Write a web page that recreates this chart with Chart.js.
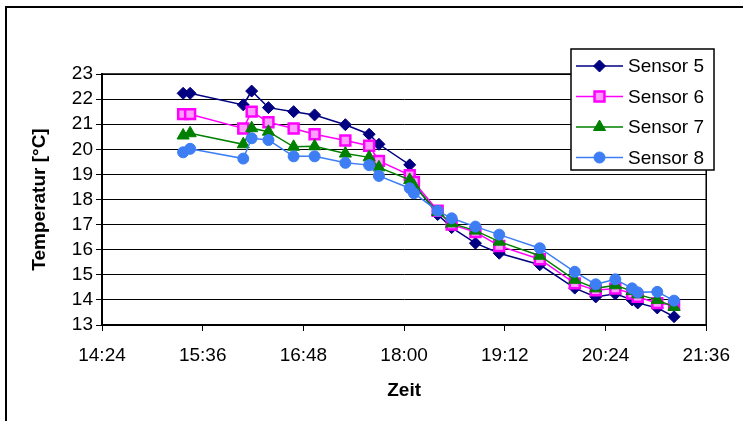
<!DOCTYPE html>
<html>
<head>
<meta charset="utf-8">
<script src="https://cdn.jsdelivr.net/npm/chart.js@4.4.0/dist/chart.umd.min.js"></script>
<style>
  html, body { margin: 0; padding: 0; background: #fff; }
  #wrap { width: 743px; height: 421px; }
</style>
</head>
<body>
<div id="wrap"><canvas id="tempChart" width="743" height="421"></canvas></div>
<script>
// Messzeitpunkte (hh:mm) und Temperaturen je Sensor in °C
const zeiten = ['15:22', '15:27', '16:05', '16:11', '16:23', '16:41', '16:56', '17:18', '17:35', '17:42', '18:04', '18:07',
                '18:24', '18:34', '18:51', '19:08', '19:37', '20:02', '20:17', '20:31', '20:43', '20:47', '21:01', '21:13'];
const sensor5 = [22.23, 22.23, 21.77, 22.32, 21.66, 21.5, 21.37, 20.98, 20.6, 20.2, 19.38, 18.62,
                 17.4, 16.88, 16.26, 15.86, 15.4, 14.47, 14.12, 14.24, 14.0, 13.88, 13.68, 13.33];
const sensor6 = [21.4, 21.4, 20.83, 21.5, 21.08, 20.83, 20.6, 20.35, 20.14, 19.54, 18.97, 18.7,
                 17.55, 17.0, 16.7, 16.15, 15.62, 14.66, 14.38, 14.45, 14.25, 14.12, 13.87, 13.8];
const sensor7 = [20.55, 20.64, 20.2, 20.84, 20.7, 20.1, 20.12, 19.83, 19.68, 19.28, 18.78, 18.55,
                 17.5, 17.05, 16.76, 16.32, 15.76, 14.8, 14.46, 14.58, 14.35, 14.22, 14.0, 13.72];
const sensor8 = [19.88, 20.02, 19.63, 20.44, 20.37, 19.72, 19.72, 19.46, 19.37, 18.94, 18.45, 18.25,
                 17.55, 17.25, 16.92, 16.6, 16.06, 15.12, 14.62, 14.82, 14.46, 14.3, 14.32, 13.97];
const sensorNamen = ['Sensor 5', 'Sensor 6', 'Sensor 7', 'Sensor 8'];

// Achsen: Zeit von 14:24 bis 21:36 in 1:12-Schritten, Temperatur 13..23
const zeitMin = '14:24';
const zeitMax = '21:36';
const zeitSchritt = 72;
const tempMin = 13;
const tempMax = 23;

const FONT = '"Liberation Sans", Arial, sans-serif';
const FS = 19;

function toMinutes(s) {
    const [h, m] = s.split(':').map(Number);
    return h * 60 + m;
}
function fmtTime(v) {
    const h = Math.floor(v / 60);
    const m = Math.round(v % 60);
    return h + ':' + String(m).padStart(2, '0');
}
function punkte(werte) {
    return zeiten.map((t, i) => ({ x: toMinutes(t), y: werte[i] }));
}

const stile = [
    { color: '#000080', fill: '#000080', style: 'rectRot', radius: 6, bw: 1 },
    { color: '#ff00ff', fill: '#ff9cff', style: 'rect', radius: 7, bw: 2.5 },
    { color: '#008000', fill: '#008000', style: 'triangle', radius: 7, bw: 1 },
    { color: '#3d7ef5', fill: '#3d7ef5', style: 'circle', radius: 5.5, bw: 1 }
];
const reihen = [sensor5, sensor6, sensor7, sensor8];

const datasets = reihen.map((werte, i) => ({
    label: sensorNamen[i],
    data: punkte(werte),
    borderColor: stile[i].color,
    backgroundColor: stile[i].fill,
    borderWidth: 1.5,
    pointStyle: stile[i].style,
    pointRadius: stile[i].radius,
    pointBorderColor: stile[i].color,
    pointBackgroundColor: stile[i].fill,
    pointBorderWidth: stile[i].bw,
    tension: 0,
    order: 4 - i
}));

// Rahmen ums Diagramm und um die Zeichenfläche
const rahmen = {
    id: 'rahmen',
    beforeDraw(chart) {
        const ctx = chart.ctx;
        ctx.save();
        ctx.fillStyle = '#fff';
        ctx.fillRect(0, 0, chart.width, chart.height);
        ctx.strokeStyle = '#000';
        ctx.lineWidth = 2;
        ctx.strokeRect(6, 7, chart.width + 20, chart.height + 20);
        ctx.restore();
    },
    beforeDatasetsDraw(chart) {
        const a = chart.chartArea;
        const ctx = chart.ctx;
        ctx.save();
        ctx.strokeStyle = '#000';
        ctx.lineWidth = 1.5;
        ctx.beginPath();
        ctx.moveTo(a.left, a.top);
        ctx.lineTo(a.right, a.top);
        ctx.lineTo(a.right, a.bottom);
        ctx.stroke();
        ctx.restore();
    }
};

function marker(ctx, style, x, y, r) {
    ctx.beginPath();
    if (style === 'rectRot') {
        ctx.moveTo(x, y - r); ctx.lineTo(x + r, y); ctx.lineTo(x, y + r); ctx.lineTo(x - r, y);
        ctx.closePath();
    } else if (style === 'rect') {
        const s = r * Math.SQRT1_2;
        ctx.rect(x - s, y - s, 2 * s, 2 * s);
    } else if (style === 'triangle') {
        const w = r * Math.sqrt(3) / 2;
        ctx.moveTo(x, y - r); ctx.lineTo(x + w, y + r / 2); ctx.lineTo(x - w, y + r / 2);
        ctx.closePath();
    } else {
        ctx.arc(x, y, r, 0, Math.PI * 2);
    }
    ctx.fill();
    ctx.stroke();
}

// Legende als Kasten oben rechts, teils über der Zeichenfläche
const legende = {
    id: 'legende',
    afterDraw(chart) {
        const ctx = chart.ctx;
        const x0 = 571, y0 = 49, w = 143, h = 121;
        ctx.save();
        ctx.fillStyle = '#fff';
        ctx.fillRect(x0, y0, w, h);
        ctx.strokeStyle = '#000';
        ctx.lineWidth = 1.5;
        ctx.strokeRect(x0, y0, w, h);
        ctx.font = FS + 'px ' + FONT;
        ctx.textBaseline = 'middle';
        ctx.textAlign = 'left';
        chart.data.datasets.forEach((ds, i) => {
            const y = 66 + i * 30.5;
            ctx.strokeStyle = ds.borderColor;
            ctx.lineWidth = 1.5;
            ctx.beginPath();
            ctx.moveTo(576, y);
            ctx.lineTo(623, y);
            ctx.stroke();
            ctx.fillStyle = ds.pointBackgroundColor;
            ctx.lineWidth = ds.pointBorderWidth;
            marker(ctx, ds.pointStyle, 599.5, y, ds.pointRadius);
            ctx.fillStyle = '#000';
            ctx.fillText(ds.label, 628, y + 1);
        });
        ctx.restore();
    }
};

const ctx = document.getElementById('tempChart').getContext('2d');
const tempChart = new Chart(ctx, {
    type: 'line',
    data: { datasets: datasets },
    options: {
        responsive: false,
        animation: false,
        devicePixelRatio: 1,
        layout: { padding: { left: 0, top: 74, right: 35, bottom: 0 } },
        plugins: {
            legend: { display: false },
            tooltip: { enabled: false }
        },
        scales: {
            x: {
                type: 'linear',
                min: toMinutes(zeitMin),
                max: toMinutes(zeitMax),
                afterFit(scale) { scale.height = 96; },
                ticks: {
                    stepSize: zeitSchritt,
                    autoSkip: false,
                    callback: v => fmtTime(v),
                    color: '#000',
                    padding: 13,
                    maxRotation: 0,
                    font: { family: FONT, size: FS }
                },
                grid: { drawOnChartArea: false, color: '#000', tickLength: 6, lineWidth: 1 },
                border: { color: '#000', width: 2 },
                title: {
                    display: true,
                    text: 'Zeit',
                    color: '#000',
                    font: { family: FONT, size: FS, weight: 'bold' },
                    padding: { top: 0, bottom: 19 }
                }
            },
            y: {
                min: tempMin,
                max: tempMax,
                afterFit(scale) { scale.width = 102; },
                ticks: {
                    stepSize: 1,
                    autoSkip: false,
                    color: '#000',
                    padding: 3,
                    font: { family: FONT, size: FS }
                },
                grid: { color: '#000', tickLength: 6, lineWidth: 1 },
                border: { color: '#000', width: 2 },
                title: {
                    display: true,
                    text: 'Temperatur [°C]',
                    color: '#000',
                    font: { family: FONT, size: FS, weight: 'bold' },
                    padding: { top: 28, bottom: 0 }
                }
            }
        }
    },
    plugins: [rahmen, legende]
});
</script>
</body>
</html>
